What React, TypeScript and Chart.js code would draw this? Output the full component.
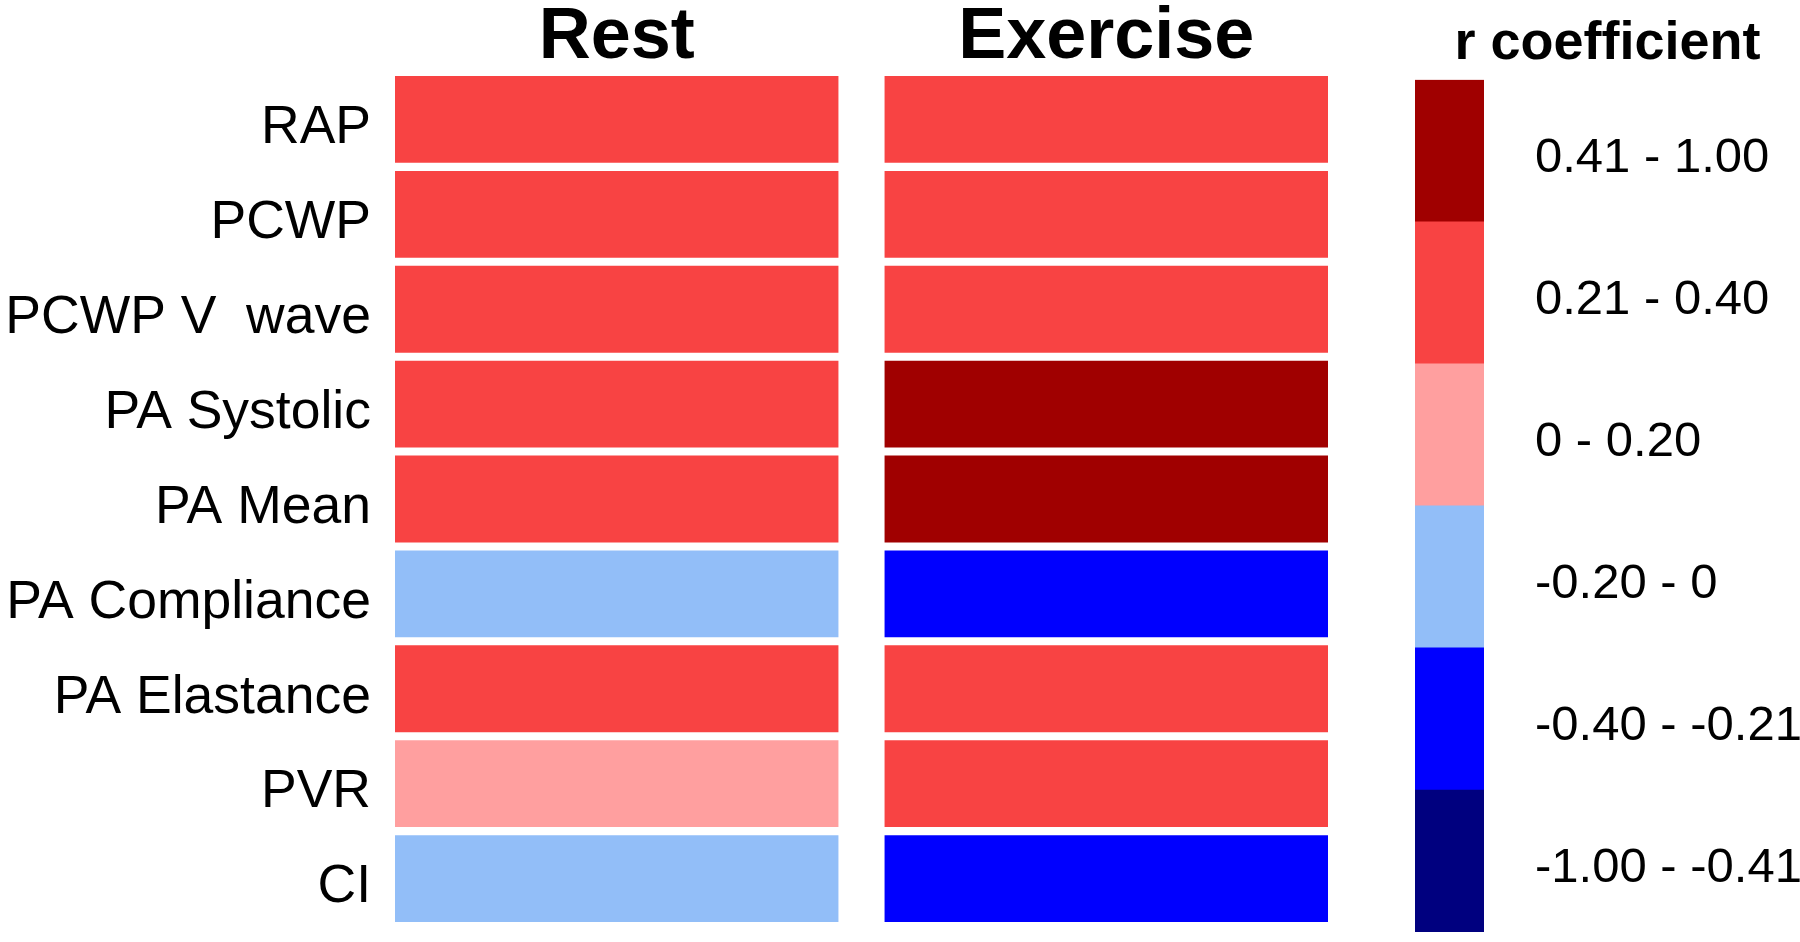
import React, { useEffect, useRef } from "react";
import { Chart, registerables } from "chart.js";

Chart.register(...registerables);

// ---- data ----
const rowLabels = [
  "RAP",
  "PCWP",
  "PCWP V  wave",
  "PA Systolic",
  "PA Mean",
  "PA Compliance",
  "PA Elastance",
  "PVR",
  "CI",
];
const columnTitles = ["Rest", "Exercise"];

// r coefficient bin of each cell
const restBins = [
  "0.21 - 0.40",
  "0.21 - 0.40",
  "0.21 - 0.40",
  "0.21 - 0.40",
  "0.21 - 0.40",
  "-0.20 - 0",
  "0.21 - 0.40",
  "0 - 0.20",
  "-0.20 - 0",
];
const exerciseBins = [
  "0.21 - 0.40",
  "0.21 - 0.40",
  "0.21 - 0.40",
  "0.41 - 1.00",
  "0.41 - 1.00",
  "-0.40 - -0.21",
  "0.21 - 0.40",
  "0.21 - 0.40",
  "-0.40 - -0.21",
];

// legend bins from bottom to top
const legendBins = [
  "-1.00 - -0.41",
  "-0.40 - -0.21",
  "-0.20 - 0",
  "0 - 0.20",
  "0.21 - 0.40",
  "0.41 - 1.00",
];
const legendColors = ["#00007F", "#0000FF", "#92BEF8", "#FF9F9F", "#F84343", "#A00000"];
const legendTitle = "r coefficient";

const COLUMN_GAP = 0.104;
const FONT = "'Liberation Sans', Arial, Helvetica, sans-serif";

const colorOf = (bin: string) => legendColors[legendBins.indexOf(bin)];

const noPad = (scale: any) => {
  scale.paddingTop = 0;
  scale.paddingBottom = 0;
  scale.paddingLeft = 0;
  scale.paddingRight = 0;
};

export default function App() {
  const mainRef = useRef<HTMLCanvasElement>(null);
  const legRef = useRef<HTMLCanvasElement>(null);

  useEffect(() => {
    const columns = [restBins, exerciseBins];
    const datasets = columns.map((bins, ci) => ({
      label: columnTitles[ci],
      data: bins.map(() => [ci * (1 + COLUMN_GAP), ci * (1 + COLUMN_GAP) + 1]),
      backgroundColor: bins.map(colorOf),
      borderWidth: 0,
      categoryPercentage: 1,
      barPercentage: 0.915,
      grouped: false,
    }));

    const main = new Chart(mainRef.current!, {
      type: "bar",
      data: { labels: rowLabels, datasets: datasets as any },
      options: {
        indexAxis: "y",
        animation: false,
        responsive: false,
        maintainAspectRatio: false,
        layout: { padding: { top: 0, bottom: 16, left: 0, right: 12 } },
        plugins: { legend: { display: false }, tooltip: { enabled: false }, title: { display: false } },
        scales: {
          x: {
            type: "linear",
            position: "top",
            min: 0,
            max: 2 + COLUMN_GAP,
            grid: { display: false, drawTicks: false },
            border: { display: false },
            afterBuildTicks: (scale: any) => {
              scale.ticks = columnTitles.map((_, i) => ({ value: i * (1 + COLUMN_GAP) + 0.5 }));
            },
            afterFit: (scale: any) => {
              scale.height = 72;
              noPad(scale);
            },
            ticks: {
              padding: -9,
              autoSkip: false,
              maxRotation: 0,
              color: "#000",
              font: { family: FONT, size: 72, weight: "bold" },
              callback: (_v: any, i: number) => columnTitles[i],
            },
          },
          y: {
            type: "category",
            grid: { display: false, drawTicks: false },
            border: { display: false },
            afterFit: (scale: any) => {
              scale.width = 395;
              noPad(scale);
            },
            ticks: {
              padding: 24,
              labelOffset: 9,
              color: "#000",
              font: { family: FONT, size: 53.5 },
            },
          },
        },
      },
    });

    const legDatasets = legendBins.map((b, i) => ({
      label: b,
      data: [1],
      backgroundColor: legendColors[i],
      borderWidth: 0,
      barPercentage: 1,
      categoryPercentage: 1,
    }));

    const leg = new Chart(legRef.current!, {
      type: "bar",
      data: { labels: [""], datasets: legDatasets },
      options: {
        animation: false,
        responsive: false,
        maintainAspectRatio: false,
        layout: { padding: { top: 0, bottom: 10, left: 15, right: 0 } },
        plugins: {
          legend: { display: false },
          tooltip: { enabled: false },
          title: {
            display: true,
            text: legendTitle,
            color: "#000",
            font: { family: FONT, size: 54, weight: "bold", lineHeight: 1.2 },
            padding: { top: 12, bottom: 3 },
          },
        },
        scales: {
          x: { stacked: true, display: false },
          y: {
            stacked: true,
            position: "right",
            min: 0,
            max: legendBins.length,
            grid: { display: false, drawTicks: false },
            border: { display: false },
            afterBuildTicks: (scale: any) => {
              scale.ticks = legendBins.map((_, i) => ({ value: i + 0.5 }));
            },
            afterFit: (scale: any) => {
              scale.width = 316;
              noPad(scale);
            },
            ticks: {
              padding: 51,
              labelOffset: 8,
              color: "#000",
              font: { family: FONT, size: 49 },
              callback: (_v: any, i: number) => legendBins[i],
            },
          },
        },
      },
    });

    return () => {
      main.destroy();
      leg.destroy();
    };
  }, []);

  return (
    <div style={{ position: "absolute", left: 0, top: 0, width: 1800, height: 942, background: "#fff" }}>
      <canvas
        ref={mainRef}
        width={1340}
        height={942}
        style={{ position: "absolute", left: 0, top: 0, width: 1340, height: 942 }}
      />
      <canvas
        ref={legRef}
        width={400}
        height={942}
        style={{ position: "absolute", left: 1400, top: 0, width: 400, height: 942 }}
      />
    </div>
  );
}
